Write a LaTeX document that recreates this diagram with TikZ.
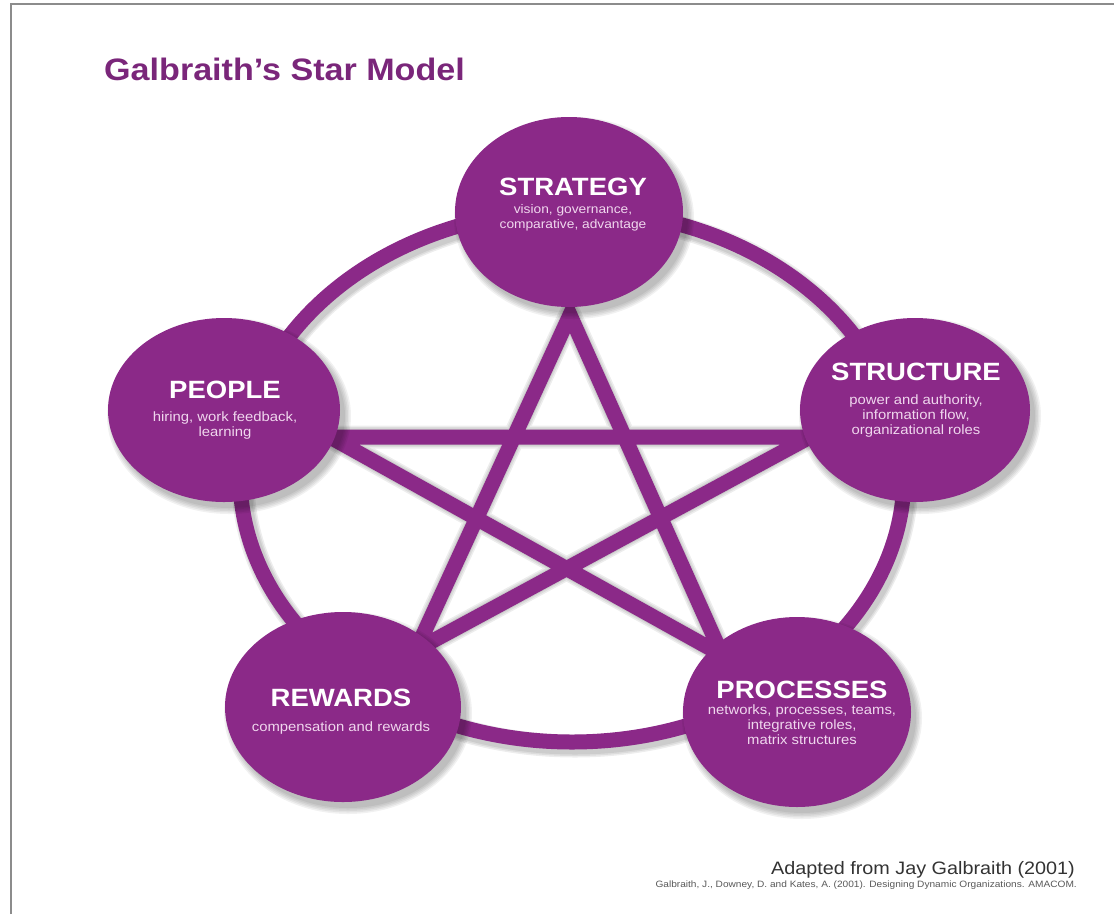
\documentclass[tikz,border=0pt]{standalone}
\usepackage{fontspec}
\setmainfont{Liberation Sans}
\newfontfamily\lblfont[FakeStretch=1.1]{Liberation Sans}
\usetikzlibrary{shapes.geometric}
\definecolor{purp}{RGB}{139,41,136}
\definecolor{titlepurp}{RGB}{122,38,122}
\definecolor{subpink}{RGB}{240,215,238}
\definecolor{framegray}{RGB}{140,140,140}
\newcommand\mybshadow[4]{%
  \foreach \k in {0,1,2,3,4}{%
    \fill[black, opacity=0.055] ({#1+5},{#2+6}) ellipse [x radius={#3pt+\k*1.5pt}, y radius={#4pt+\k*1.5pt}];
  }}
\begin{document}
\begin{tikzpicture}[x=1pt,y=-1pt,
  bubble/.style={ellipse, fill=purp, inner sep=0pt, draw=none},
  bar/.style={draw=purp, line width=15pt},
  barshadow/.style={draw=black, opacity=0.07, shift={(3,4)}},
  head/.style={text=white, font=\lblfont\bfseries\fontsize{25}{28}\selectfont, inner sep=0pt, anchor=center},
  sub/.style={text=subpink, font=\lblfont\fontsize{13.5}{15}\selectfont, align=center, inner sep=0pt, anchor=center},
]
\fill[white] (0,0) rectangle (1114,914);
\useasboundingbox (0,0) rectangle (1114,914);
\draw[framegray, line width=2pt] (11,914) -- (11,4) -- (1114,4);

\node[anchor=base west, text=titlepurp, font=\lblfont\bfseries\fontsize{31}{36}\selectfont, inner sep=0pt] (title) at (104,80) {Galbraith’s Star Model};

% star vertices
\coordinate (vT) at (570,315);
\coordinate (vL) at (330,437);
\coordinate (vR) at (810,437);
\coordinate (vBL) at (416,650);
\coordinate (vBR) at (722,655);

% shadows of ring and star
\foreach \w in {17,20,23}{
  \draw[barshadow, line width=\w pt] (572,476) ellipse [x radius=332pt, y radius=266pt];
  \draw[barshadow, line width=\w pt, line join=miter] (vT) -- (vBL) -- (vR) -- (vL) -- (vBR) -- cycle;
}
% ring
\draw[bar] (572,476) ellipse [x radius=332pt, y radius=266pt];
% star
\draw[bar, line join=miter] (vT) -- (vBL) -- (vR) -- (vL) -- (vBR) -- cycle;

% bubble shadows
\mybshadow{569}{212}{114}{95}
\mybshadow{224}{410}{116}{92}
\mybshadow{915}{410}{115}{92}
\mybshadow{343}{707}{118}{95}
\mybshadow{797}{712}{114}{95}

% bubbles
\node[bubble, minimum width=228pt, minimum height=190pt] (strategy) at (569,212) {};
\node[bubble, minimum width=232pt, minimum height=184pt] (people) at (224,410) {};
\node[bubble, minimum width=230pt, minimum height=184pt] (structure) at (915,410) {};
\node[bubble, minimum width=236pt, minimum height=190pt] (rewards) at (343,707) {};
\node[bubble, minimum width=228pt, minimum height=190pt] (processes) at (797,712) {};

% labels
\node[head] (strategyT) at (573,187) {STRATEGY};
\node[sub, font=\lblfont\fontsize{12.5}{15}\selectfont] (strategyS) at (573,218) {vision, governance,\\comparative, advantage};
\node[head] (peopleT) at (225,390) {PEOPLE};
\node[sub] (peopleS) at (225,426) {hiring, work feedback,\\learning};
\node[head] (structureT) at (916,372) {STRUCTURE};
\node[sub] (structureS) at (916,416) {power and authority,\\information flow,\\organizational roles};
\node[head] (processesT) at (802,690) {PROCESSES};
\node[sub] (processesS) at (802,725) {networks, processes, teams,\\integrative roles,\\matrix structures};
\node[head] (rewardsT) at (341,698) {REWARDS};
\node[sub] (rewardsS) at (341,728) {compensation and rewards};

% footer
\node[anchor=base east, text=black!80, font=\lblfont\fontsize{18}{20}\selectfont, inner sep=0pt] (credit) at (1075,874) {Adapted from Jay Galbraith (2001)};
\node[anchor=base east, text=black!65, font=\lblfont\fontsize{9.2}{10}\selectfont, inner sep=0pt] (ref) at (1077,887) {Galbraith, J., Downey, D. and Kates, A. (2001). Designing Dynamic Organizations. AMACOM.};
\end{tikzpicture}
\end{document}
